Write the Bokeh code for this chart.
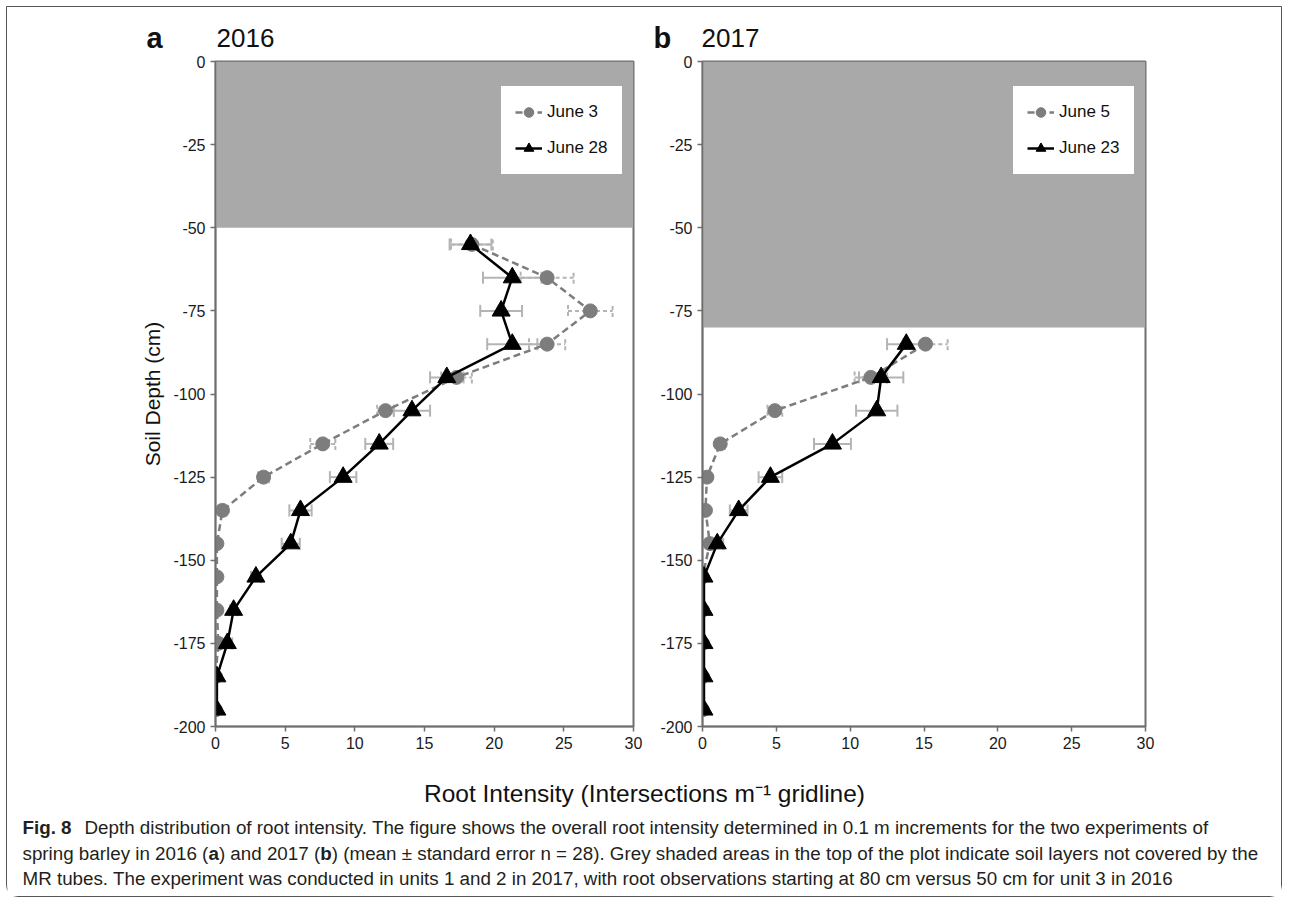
from bokeh.plotting import figure
from bokeh.models import (ColumnDataSource, Whisker, TeeHead, Label, Legend,
                          LegendItem, Range1d, FixedTicker)
from bokeh.layouts import row, column
from bokeh.embed import file_html
from bokeh.resources import INLINE

FONT = "Liberation Sans"

# ---------------- data ----------------
x_ticks = [0, 5, 10, 15, 20, 25, 30]
y_ticks = [0, -25, -50, -75, -100, -125, -150, -175, -200]
x_lim = (0, 30)
y_lim = (-200, 0)

# 2016 (panel a)
depth_a = [-55, -65, -75, -85, -95, -105, -115, -125, -135, -145, -155, -165, -175, -185, -195]
june3 = [18.4, 23.8, 26.9, 23.8, 17.3, 12.2, 7.7, 3.45, 0.5, 0.1, 0.1, 0.1, 0.2, 0.0, 0.0]
june3_se = [1.5, 1.9, 1.6, 1.3, 1.1, 0.6, 0.9, 0.4, 0.3, 0.1, 0.1, 0.1, 0.2, 0.0, 0.0]
june28 = [18.3, 21.3, 20.5, 21.3, 16.6, 14.1, 11.75, 9.16, 6.1, 5.4, 2.9, 1.3, 0.85, 0.1, 0.1]
june28_se = [1.5, 2.1, 1.5, 1.8, 1.2, 1.3, 1.0, 0.95, 0.8, 0.65, 0.35, 0.25, 0.35, 0.1, 0.1]
unobserved_a = -50

# 2017 (panel b)
depth_b = [-85, -95, -105, -115, -125, -135, -145, -155, -165, -175, -185, -195]
june5 = [15.1, 11.4, 4.9, 1.2, 0.3, 0.2, 0.5, 0.0, 0.0, 0.0, 0.0, 0.0]
june5_se = [1.5, 1.1, 0.5, 0.3, 0.2, 0.1, 0.3, 0.0, 0.0, 0.0, 0.0, 0.0]
june23 = [13.8, 12.1, 11.8, 8.8, 4.6, 2.45, 1.0, 0.1, 0.1, 0.1, 0.1, 0.1]
june23_se = [1.3, 1.5, 1.4, 1.25, 0.8, 0.6, 0.4, 0.05, 0.05, 0.05, 0.05, 0.05]
unobserved_b = -80

labels_a = ["June 3", "June 28"]
labels_b = ["June 5", "June 23"]
panel_letters = ["a", "b"]
panel_years = ["2016", "2017"]

GREY = "#7d7d7d"
ERR = "#b4b4b4"
SHADE = "#a9a9a9"
FRAME = "#6e6e6e"
TXT = "#111111"


def src(depth, vals, se):
    return ColumnDataSource(dict(depth=depth, val=vals,
                                 lo=[v - s for v, s in zip(vals, se)],
                                 hi=[v + s for v, s in zip(vals, se)]))


def panel(width, mb_left, mb_right, depth, s1, s1_se, s2, s2_se, unobserved,
          labels, leg_x, ylabel):
    p = figure(width=width, height=711, x_range=Range1d(*x_lim), y_range=Range1d(*y_lim),
               output_backend="svg", toolbar_location=None,
               min_border_left=mb_left, min_border_right=mb_right,
               min_border_top=8, min_border_bottom=38)
    p.grid.visible = False
    p.outline_line_color = FRAME
    p.outline_line_width = 2

    p.quad(left=x_lim[0], right=x_lim[1], top=y_lim[1], bottom=unobserved,
           fill_color=SHADE, line_color=None)

    sa = src(depth, s1, s1_se)
    sb = src(depth, s2, s2_se)

    wa = Whisker(source=sa, base="depth", lower="lo", upper="hi", dimension="width",
                 line_color=ERR, line_width=2, line_dash="4 3", level="underlay")
    wa.upper_head = TeeHead(size=12, line_color=ERR, line_width=2, line_dash="4 3")
    wa.lower_head = TeeHead(size=12, line_color=ERR, line_width=2, line_dash="4 3")
    p.add_layout(wa)
    wb = Whisker(source=sb, base="depth", lower="lo", upper="hi", dimension="width",
                 line_color=ERR, line_width=2, level="underlay")
    wb.upper_head = TeeHead(size=12, line_color=ERR, line_width=2)
    wb.lower_head = TeeHead(size=12, line_color=ERR, line_width=2)
    p.add_layout(wb)

    la = p.line(x="val", y="depth", source=sa, line_color=GREY, line_width=2.5, line_dash="7 4")
    c = p.scatter(x="val", y="depth", source=sa, marker="circle", size=14,
                  fill_color=GREY, line_color=GREY)
    lb = p.line(x="val", y="depth", source=sb, line_color="black", line_width=2.5)
    t = p.scatter(x="val", y="depth", source=sb, marker="triangle", size=18,
                  fill_color="black", line_color="black")

    # a white 14px border acts as the legend's inner padding
    leg = Legend(items=[LegendItem(label=labels[0], renderers=[la, c]),
                        LegendItem(label=labels[1], renderers=[lb, t])],
                 location=(leg_x, 552), border_line_color="white", border_line_width=14,
                 background_fill_color="white", background_fill_alpha=1.0,
                 padding=0, spacing=12, glyph_width=27, glyph_height=24,
                 label_height=24, label_standoff=5, margin=0,
                 label_text_font=FONT, label_text_font_size="17px",
                 label_text_color=TXT)
    p.add_layout(leg)

    p.xaxis.ticker = FixedTicker(ticks=x_ticks)
    p.yaxis.ticker = FixedTicker(ticks=y_ticks)
    p.yaxis.major_label_overrides = {t_: str(t_) for t_ in y_ticks}
    for ax in p.axis:
        ax.major_tick_out = 5
        ax.major_tick_in = 0
        ax.minor_tick_out = 0
        ax.minor_tick_in = 0
        ax.axis_line_color = FRAME
        ax.axis_line_width = 1.5
        ax.major_tick_line_color = FRAME
        ax.major_tick_line_width = 1.5
        ax.major_label_text_font = FONT
        ax.major_label_text_font_size = "16px"
        ax.major_label_text_color = "#1a1a1a"
        ax.major_label_standoff = 5
    if ylabel:
        p.yaxis.axis_label = ylabel
        p.yaxis.axis_label_text_font = FONT
        p.yaxis.axis_label_text_font_size = "21px"
        p.yaxis.axis_label_text_font_style = "normal"
        p.yaxis.axis_label_text_color = TXT
        p.yaxis.axis_label_standoff = 6
    return p


pa = panel(650, 208, 24, depth_a, june3, june3_se, june28, june28_se, unobserved_a,
           labels_a, 286, "Soil Depth (cm)")
pb = panel(624, 44, 136, depth_b, june5, june5_se, june23, june23_se, unobserved_b,
           labels_b, 311, None)

# ---------------- panel headers ----------------
head = figure(width=1274, height=46, x_range=Range1d(0, 1274), y_range=Range1d(0, 46),
              output_backend="svg", toolbar_location=None, min_border=0, title=None,
              x_axis_type=None, y_axis_type=None)
head.outline_line_color = None
head.grid.visible = False
for letter, year, lx, yx in zip(panel_letters, panel_years, [139, 646], [209, 694]):
    head.add_layout(Label(x=lx, y=16, text=letter, text_font=FONT, text_font_size="29px",
                          text_font_style="bold", text_baseline="alphabetic", text_color=TXT))
    head.add_layout(Label(x=yx, y=16, text=year, text_font=FONT, text_font_size="26px",
                          text_baseline="alphabetic", text_color=TXT))

# ---------------- caption / shared x label ----------------
cap = figure(width=1274, height=132, x_range=Range1d(0, 1274), y_range=Range1d(0, 132),
             output_backend="svg", toolbar_location=None, min_border=0, title=None,
             x_axis_type=None, y_axis_type=None)
cap.outline_line_color = None
cap.grid.visible = False

x_label = "Root Intensity (Intersections m\u207b\u00b9 gridline)"
cap_fig = "Fig. 8"
cap_l1 = "Depth distribution of root intensity. The figure shows the overall root intensity determined in 0.1 m increments for the two experiments of"
cap_l2 = ["spring barley in 2016 (", "a", ") and 2017 (", "b",
          ") (mean \u00b1 standard error n = 28). Grey shaded areas in the top of the plot indicate soil layers not covered by the"]
cap_l3 = "MR tubes. The experiment was conducted in units 1 and 2 in 2017, with root observations starting at 80 cm versus 50 cm for unit 3 in 2016"

CF = "18.8px"
CC = "#231f20"
cap.add_layout(Label(x=637, y=103, text=x_label, text_font=FONT, text_font_size="24.5px",
                     text_align="center", text_baseline="alphabetic", text_color=TXT))
cap.add_layout(Label(x=15, y=69, text=cap_fig, text_font=FONT, text_font_size=CF,
                     text_font_style="bold", text_baseline="alphabetic", text_color=CC))
cap.add_layout(Label(x=77, y=69, text=cap_l1, text_font=FONT, text_font_size=CF,
                     text_baseline="alphabetic", text_color=CC))
offs = [0, 186.0, 196.4, 297.8, 309.3]
for i, (part, off) in enumerate(zip(cap_l2, offs)):
    cap.add_layout(Label(x=15 + off, y=43, text=part, text_font=FONT, text_font_size=CF,
                         text_font_style="bold" if i in (1, 3) else "normal",
                         text_baseline="alphabetic", text_color=CC))
cap.add_layout(Label(x=15, y=18, text=cap_l3, text_font=FONT, text_font_size=CF,
                     text_baseline="alphabetic", text_color=CC))

layout = column(head, row(pa, pb), cap,
                styles={"margin-left": "6px", "margin-top": "6px",
                        "border": "1.5px solid #555555",
                        "border-radius": "0 0 12px 12px"})

open("out.html", "w").write(file_html(layout, INLINE))
